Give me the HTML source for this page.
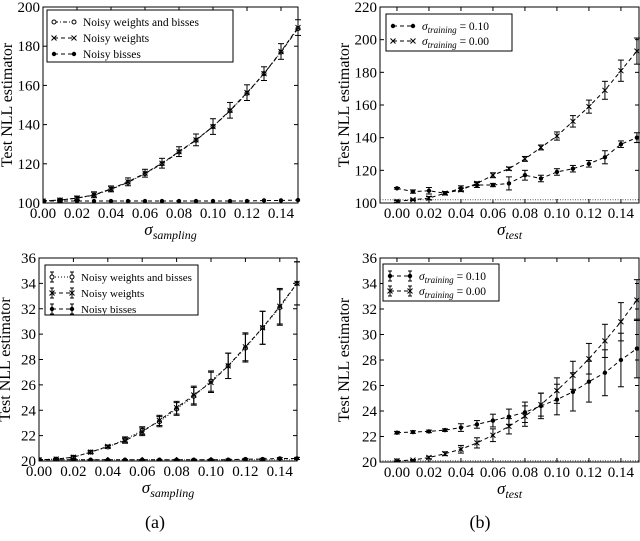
<!DOCTYPE html>
<html><head><meta charset="utf-8"><style>
body{margin:0;background:#fff;width:640px;height:536px;overflow:hidden}
svg text{font-family:"Liberation Serif","DejaVu Serif",serif}
</style></head><body>
<svg id="s" width="640" height="536"></svg>
<script>
const xs=[0,0.01,0.02,0.03,0.04,0.05,0.06,0.07,0.08,0.09,0.10,0.11,0.12,0.13,0.14,0.15];
const xTicks=["0.00","0.02","0.04","0.06","0.08","0.10","0.12","0.14"];
const aWB=[101,101.5,102.5,104,107,110.5,115,120,126,132,139,147,156,166,177,189];
const aW=[101,101.5,102.5,104.2,107.2,110.8,115.2,120.3,126.2,132.2,139,147.3,156.3,166,177.3,189.5];
const aB=[101,101,101,101,101,101,101,101,101,101,101,101,101,101.3,101.3,101.5];
const aErr=[0.5,0.5,1,1.5,1.5,2,2,2.5,2.5,3,4,4,4,3.5,4,4];
const bT10=[109,107,107.5,106,109,111,111,112,117,115,119,121,124,128,136,140];
const bT00=[101,102,103,106,108,112,117,121,127,134,141,150,159,169,181,193];
const bE10=[0.5,1,2,1,1.5,1.5,1,4,3,2,2,2,2,4,2,3];
const bE00=[0.5,0.5,1,1,1,1,1.5,1,1.5,1.5,2.5,3.5,4,5.5,6.5,8];
const cWB=[20.1,20.15,20.3,20.7,21.1,21.7,22.4,23.1,24.1,25.1,26.3,27.5,28.9,30.5,32.1,34];
const cW=[20.1,20.15,20.3,20.7,21.15,21.6,22.3,23.2,24.2,25.2,26.2,27.5,29,30.5,32.2,34];
const cB=[20.1,20.1,20.1,20.1,20.1,20.1,20.1,20.1,20.1,20.1,20.1,20.1,20.15,20.15,20.2,20.2];
const cErr=[0.05,0.05,0.1,0.1,0.1,0.2,0.3,0.4,0.5,0.7,0.8,1,1.1,1.3,1.4,1.7];
const dT10=[22.3,22.35,22.4,22.5,22.7,22.95,23.25,23.55,23.9,24.4,24.9,25.5,26.3,27.0,28.0,28.9];
const dT00=[20.1,20.15,20.35,20.65,21.0,21.5,22.1,22.8,23.6,24.5,25.6,26.8,28.1,29.5,31.0,32.7];
const dE10=[0.1,0.1,0.1,0.1,0.3,0.3,0.5,0.6,0.8,1,1.2,1.5,1.6,1.8,2.1,2.3];
const dE00=[0.05,0.05,0.1,0.15,0.3,0.4,0.5,0.6,0.8,0.9,1,1.1,1.2,1.3,1.5,1.6];
const S=document.getElementById('s'),NS='http://www.w3.org/2000/svg';
const FF='"Liberation Serif","DejaVu Serif",serif';
function el(t,a,p){const e=document.createElementNS(NS,t);for(const k in a)e.setAttribute(k,a[k]);if(t==='text')e.setAttribute('font-family',FF);(p||S).appendChild(e);return e;}
function panel(P){
 const g=el('g',{});
 
 
 const X=v=>P.x0+(v-P.xd0)/(P.xd1-P.xd0)*(P.x1-P.x0);
 const Y=v=>P.y1-(v-P.yd0)/(P.yd1-P.yd0)*(P.y1-P.y0);
 const cid='c'+P.name;
 const cp=el('clipPath',{id:cid},g);el('rect',{x:P.x0,y:P.y0-10,width:P.x1-P.x0+6,height:P.y1-P.y0+10},cp);
 const f=el('rect',{x:P.x0,y:P.y0,width:P.x1-P.x0,height:P.y1-P.y0,fill:'none',stroke:'#000','stroke-width':1},g);
 
 
 xTicks.forEach(t=>{const x=X(+t);
  el('line',{x1:x,x2:x,y1:P.y1,y2:P.y1-4,stroke:'#000'},g);el('line',{x1:x,x2:x,y1:P.y0,y2:P.y0+4,stroke:'#000'},g);
  const tx=el('text',{x:x,y:P.y1+15,'font-size':15,'text-anchor':'middle'},g);tx.textContent=t;
  
  });
 P.yTicks.forEach(t=>{const y=Y(t);
  el('line',{x1:P.x0,x2:P.x0+4,y1:y,y2:y,stroke:'#000'},g);el('line',{x1:P.x1,x2:P.x1-4,y1:y,y2:y,stroke:'#000'},g);
  const tx=el('text',{x:P.x0-3,y:y+5,'font-size':15,'text-anchor':'end'},g);tx.textContent=t;
  
  });
 const yl=el('text',{x:0,y:0,'font-size':16,'text-anchor':'middle',transform:`translate(${Math.max(P.x0-31,10)},${(P.y0+P.y1)/2}) rotate(-90)`},g);yl.textContent='Test NLL estimator';
 
 
 const xl=el('text',{x:(P.x0+P.x1)/2,y:P.y1+32,'font-size':17,'text-anchor':'middle','font-style':'italic'},g);
 xl.innerHTML='σ<tspan font-size="12" dy="4">'+P.sub+'</tspan>';
 
 
 const cg=el('g',{'clip-path':`url(#${cid})`},g);
 if(P.ref!=null)el('line',{x1:P.x0,x2:P.x1,y1:Y(P.ref),y2:Y(P.ref),stroke:'#555','stroke-dasharray':'1,1.5'},cg);
 P.series.forEach(s=>{
  const sg=el('g',{},cg);
  
  
  el('polyline',{points:xs.map((x,i)=>X(x)+','+Y(s.v[i])).join(' '),fill:'none',stroke:'#000','stroke-width':1,'stroke-dasharray':s.dash},sg);
  xs.forEach((x,i)=>{const cx=X(x),cy=Y(s.v[i]);
   if(s.e){const e=s.e[i];el('line',{x1:cx,x2:cx,y1:Y(s.v[i]-e),y2:Y(s.v[i]+e),stroke:'#000'},sg);
    [s.v[i]-e,s.v[i]+e].forEach(v=>el('line',{x1:cx-3,x2:cx+3,y1:Y(v),y2:Y(v),stroke:'#000'},sg));}
   mark(sg,s.m,cx,cy);});
 });
 const lg=el('g',{},g);
 
 
 el('rect',{x:P.lx,y:P.ly,width:P.lw,height:P.lh,fill:'#fff',stroke:'#000'},lg);
 P.series.forEach((s,i)=>{const yy=P.ly+12+i*P.lsp;
  el('line',{x1:P.lx+7,x2:P.lx+27,y1:yy,y2:yy,stroke:'#000','stroke-dasharray':s.dash},lg);
  if(P.lbars){[P.lx+7,P.lx+27].forEach(x=>{el('line',{x1:x,x2:x,y1:yy-5,y2:yy+5,stroke:'#000'},lg);el('line',{x1:x-2,x2:x+2,y1:yy-5,y2:yy-5,stroke:'#000'},lg);el('line',{x1:x-2,x2:x+2,y1:yy+5,y2:yy+5,stroke:'#000'},lg);});}
  mark(lg,s.m,P.lx+7,yy);mark(lg,s.m,P.lx+27,yy);
  const t=el('text',{x:P.lx+36,y:yy+4,'font-size':P.lfs||11.5},lg);t.innerHTML=s.label;
  
  });
}
function mark(g,m,x,y){
 if(m==='o')el('circle',{cx:x,cy:y,r:2,fill:'#fff',stroke:'#000'},g);
 else if(m==='x'){el('path',{d:`M${x-2.5},${y-2.5}L${x+2.5},${y+2.5}M${x-2.5},${y+2.5}L${x+2.5},${y-2.5}`,stroke:'#000'},g);}
 else el('circle',{cx:x,cy:y,r:2.2,fill:'#000'},g);
}
const trn='<tspan font-style="italic">σ</tspan><tspan font-size="9" font-style="italic" dy="3">training</tspan><tspan dy="-3"> = ';
panel({name:'panel-a-top',x0:43,x1:298,y0:7,y1:203,xd0:0,xd1:0.15,yd0:100,yd1:200,yTicks:[100,120,140,160,180,200],sub:'sampling',ref:null,
 lx:47,ly:10,lw:186,lh:52,lsp:16,series:[
 {id:'series-noisy-weights-and-biases',v:aWB,m:'o',dash:'4,2,1,2',label:'Noisy weights and bisses'},
 {id:'series-noisy-weights',v:aW,m:'x',dash:'4,3',e:aErr,label:'Noisy weights'},
 {id:'series-noisy-biases',v:aB,m:'.',dash:'4,3',label:'Noisy bisses'}]});
panel({name:'panel-b-top',x0:380,x1:639,y0:7,y1:203,xd0:-0.0106,xd1:0.1513,yd0:100,yd1:220,yTicks:[100,120,140,160,180,200,220],sub:'test',ref:102,
 lx:386,ly:14,lw:126,lh:37,lsp:15,series:[
 {id:'series-training-0.10',v:bT10,m:'.',dash:'4,3',e:bE10,label:trn+'0.10</tspan>'},
 {id:'series-training-0.00',v:bT00,m:'x',dash:'4,3',e:bE00,label:trn+'0.00</tspan>'}]});
panel({name:'panel-a-bottom',x0:39,x1:297,y0:258,y1:461,xd0:0,xd1:0.15,yd0:20,yd1:36,yTicks:[20,22,24,26,28,30,32,34,36],sub:'sampling',ref:20.1,
 lx:45,ly:265,lw:153,lh:50,lsp:16,lfs:11,lbars:true,series:[
 {id:'series-noisy-weights-and-biases-b',v:cWB,m:'o',dash:'1,2',e:cErr,label:'Noisy weights and bisses'},
 {id:'series-noisy-weights-b',v:cW,m:'x',dash:'4,3',e:cErr,label:'Noisy weights'},
 {id:'series-noisy-biases-b',v:cB,m:'.',dash:'4,3',e:cErr.map(e=>e*0.05),label:'Noisy bisses'}]});
panel({name:'panel-b-bottom',x0:380,x1:639,y0:258,y1:462,xd0:-0.0106,xd1:0.1513,yd0:20,yd1:36,yTicks:[20,22,24,26,28,30,32,34,36],sub:'test',ref:20.1,
 lx:383,ly:264,lw:116,lh:37,lsp:15,lbars:true,series:[
 {id:'series-training-0.10-b',v:dT10,m:'.',dash:'4,3',e:dE10,label:trn+'0.10</tspan>'},
 {id:'series-training-0.00-b',v:dT00,m:'x',dash:'4,3',e:dE00,label:trn+'0.00</tspan>'}]});
[['(a)',155],['(b)',480]].forEach(([t,x])=>{const c=el('text',{x:x,y:528,'font-size':18,'text-anchor':'middle'});c.textContent=t;
 
 });
</script>
</body></html>
